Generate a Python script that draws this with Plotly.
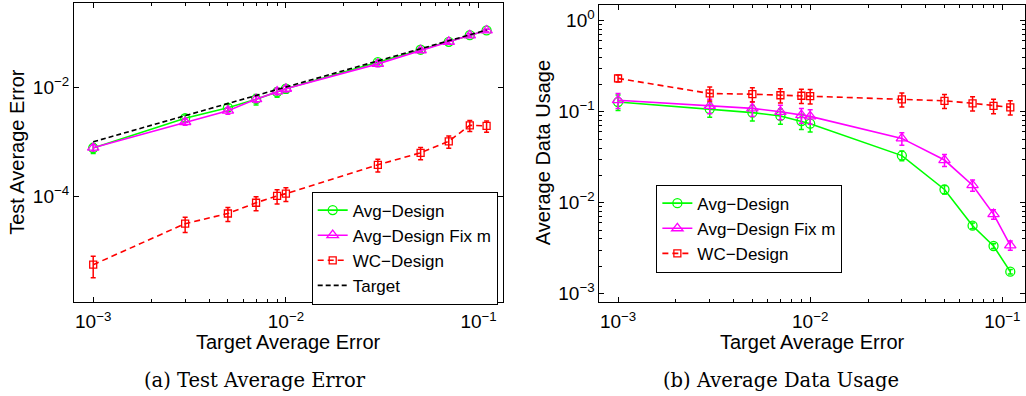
import plotly.graph_objects as go

# ---------------- data ----------------
target_err = [0.001, 0.003, 0.005, 0.007, 0.009, 0.01, 0.03, 0.05, 0.07, 0.09, 0.11]

# (a) Test Average Error
avg_test = [7.7e-4, 2.7e-3, 4.2e-3, 6.0e-3, 8.1e-3, 9.3e-3, 0.0284, 0.048, 0.067, 0.089, 0.108]
avg_test_err = [1.6e-4, 4e-4, 6e-4, 1.3e-3, 1.6e-3, 1.6e-3, 3e-3, 4e-3, 5e-3, 6e-3, 6e-3]
fix_test = [7.8e-4, 2.3e-3, 3.7e-3, 6.0e-3, 8.3e-3, 9.3e-3, 0.0265, 0.047, 0.067, 0.088, 0.108]
fix_test_err = [1.0e-4, 3e-4, 5e-4, 8e-4, 1.1e-3, 1.2e-3, 3e-3, 4e-3, 5e-3, 6e-3, 6e-3]
wc_test = [5.7e-6, 3.2e-5, 4.9e-5, 7.7e-5, 1.03e-4, 1.13e-4, 3.8e-4, 6.3e-4, 1.02e-3, 2.0e-3, 1.95e-3]
wc_test_err = [2.4e-6, 1.0e-5, 1.4e-5, 2.2e-5, 3.0e-5, 3.2e-5, 1.0e-4, 1.6e-4, 2.6e-4, 4.5e-4, 4.5e-4]

# (b) Average Data Usage
avg_use = [0.128, 0.107, 0.098, 0.090, 0.079, 0.074, 0.033, 0.014, 0.0056, 0.00335, 0.00175]
avg_use_err = [0.025, 0.02, 0.019, 0.017, 0.015, 0.014, 0.004, 0.0015, 0.0004, 0.0002, 0.0001]
fix_use = [0.134, 0.116, 0.109, 0.100, 0.092, 0.089, 0.051, 0.0295, 0.0156, 0.0075, 0.0034]
fix_use_err = [0.025, 0.021, 0.02, 0.018, 0.017, 0.016, 0.008, 0.0045, 0.0022, 0.0009, 0.0004]
wc_use = [0.233, 0.159, 0.156, 0.152, 0.150, 0.149, 0.137, 0.132, 0.124, 0.116, 0.112]
wc_use_err = [0.02, 0.028, 0.028, 0.027, 0.027, 0.027, 0.024, 0.023, 0.022, 0.021, 0.02]

names = ["Avg\u2212Design", "Avg\u2212Design Fix m", "WC\u2212Design", "Target"]
x_tickvals = [1e-3, 1e-2, 1e-1]
x_ticktext = ["10<sup>\u22123</sup>", "10<sup>\u22122</sup>", "10<sup>\u22121</sup>"]
y1_tickvals = [1e-4, 1e-2]
y1_ticktext = ["10<sup>\u22124</sup>", "10<sup>\u22122</sup>"]
y2_tickvals = [1e-3, 1e-2, 1e-1, 1]
y2_ticktext = ["10<sup>\u22123</sup>", "10<sup>\u22122</sup>", "10<sup>\u22121</sup>", "10<sup>0</sup>"]

GREEN = "#00ff00"
MAG = "#ff00ff"
RED = "#ff0000"

fig = go.Figure()


def add(x, y, err, name, color, symbol, size, dash, xa, ya, leg, show=True):
    fig.add_trace(go.Scatter(
        x=x, y=y, name=name, mode="lines+markers",
        line=dict(color=color, width=1.6, dash=dash),
        marker=dict(symbol=symbol, size=size, color=color, line=dict(color=color, width=1.3)),
        error_y=dict(type="data", array=err, visible=True, color=color, thickness=1.5, width=2.5),
        xaxis=xa, yaxis=ya, legend=leg, showlegend=show,
    ))


add(target_err, avg_test, avg_test_err, names[0], GREEN, "circle-open", 9, "solid", "x", "y", "legend")
add(target_err, fix_test, fix_test_err, names[1], MAG, "triangle-up-open", 10, "solid", "x", "y", "legend")
add(target_err, wc_test, wc_test_err, names[2], RED, "square-open", 7, "6px,4px", "x", "y", "legend")
fig.add_trace(go.Scatter(x=target_err, y=target_err, name=names[3], mode="lines",
                         line=dict(color="black", width=1.6, dash="5px,3px"),
                         xaxis="x", yaxis="y", legend="legend"))

add(target_err, avg_use, avg_use_err, names[0], GREEN, "circle-open", 9, "solid", "x2", "y2", "legend2")
add(target_err, fix_use, fix_use_err, names[1], MAG, "triangle-up-open", 10, "solid", "x2", "y2", "legend2")
add(target_err, wc_use, wc_use_err, names[2], RED, "square-open", 7, "6px,4px", "x2", "y2", "legend2")

W, H = 1026, 396


def px(v):
    return v / W


def py(v):
    return (H - v) / H


tickfont = dict(family="Liberation Sans", size=19, color="black")


def minor_vals(lo, hi):
    v = []
    for e in range(lo, hi):
        for m in range(2, 10):
            v.append(m * 10 ** e)
    return v


axis_common = dict(type="log", showline=True, linecolor="black", linewidth=1, mirror="ticks",
                   ticks="inside", ticklen=5, tickcolor="black", tickwidth=1,
                   showgrid=False, zeroline=False, tickfont=tickfont, tickmode="array")
minor_x = dict(tickmode="array", tickvals=minor_vals(-3, 0), ticks="inside", ticklen=3,
               tickcolor="black", showgrid=False)

fig.update_layout(
    width=W, height=H,
    margin=dict(l=0, r=0, t=0, b=0),
    paper_bgcolor="white", plot_bgcolor="white",
    font=dict(family="Liberation Sans", color="black"),
    xaxis=dict(axis_common, domain=[px(74), px(503)], range=[-3.1, -0.876], anchor="y",
               tickvals=x_tickvals, ticktext=x_ticktext, minor=minor_x, ticklabelstandoff=3),
    yaxis=dict(axis_common, domain=[py(304), py(3)], range=[-5.92, -0.465], anchor="x",
               tickvals=y1_tickvals, ticktext=y1_ticktext),
    xaxis2=dict(axis_common, domain=[px(600), 1.0], range=[-3.097, -0.882], anchor="y2",
                tickvals=x_tickvals, ticktext=x_ticktext, minor=minor_x, ticklabelstandoff=3),
    yaxis2=dict(axis_common, domain=[py(304), py(5)], range=[-3.087, 0.174], anchor="x2",
                tickvals=y2_tickvals, ticktext=y2_ticktext,
                minor=dict(tickmode="array", tickvals=minor_vals(-3, 1), ticks="inside", ticklen=3,
                           tickcolor="black", showgrid=False)),
    legend=dict(x=px(312), y=py(193), xanchor="left", yanchor="top",
                bgcolor="white", bordercolor="black", borderwidth=1,
                font=dict(family="Liberation Sans", size=17, color="black"), tracegroupgap=0),
    legend2=dict(x=px(657), y=py(186), xanchor="left", yanchor="top",
                 bgcolor="white", bordercolor="black", borderwidth=1,
                 font=dict(family="Liberation Sans", size=17, color="black"), tracegroupgap=0),
)

title_font = dict(family="Liberation Sans", size=20, color="black")
cap_font = dict(family="DejaVu Serif", size=19.5, color="black")
ann = [
    dict(text="Target Average Error", x=px(289), y=py(345), font=title_font),
    dict(text="Target Average Error", x=px(813), y=py(345), font=title_font),
    dict(text="Test Average Error", x=px(17), y=py(153), font=title_font, textangle=-90),
    dict(text="Average Data Usage", x=px(543), y=py(154), font=title_font, textangle=-90),
    dict(text="(a) Test Average Error", x=px(255), y=py(383), font=cap_font),
    dict(text="(b) Average Data Usage", x=px(782), y=py(383), font=cap_font),
]
for a in ann:
    fig.add_annotation(xref="paper", yref="paper", showarrow=False, xanchor="center", yanchor="middle", **a)

fig.write_html(
    "out.html",
    config={"displayModeBar": False},
    post_script="document.body.style.margin='0px';document.body.style.padding='0px';"
                "document.body.style.overflow='hidden';",
)
